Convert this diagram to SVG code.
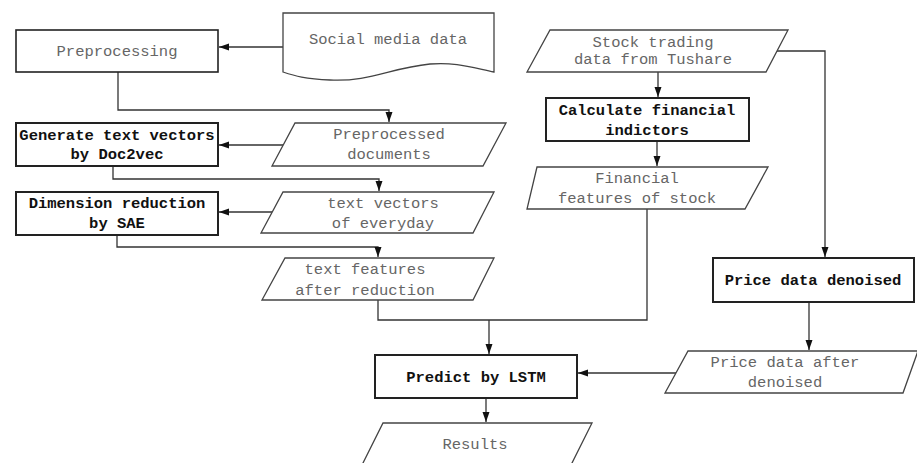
<svg xmlns="http://www.w3.org/2000/svg" width="917" height="463" viewBox="0 0 917 463">
<style>
.proc{fill:#fff;stroke:#222;stroke-width:2}
.data{fill:#fff;stroke:#444;stroke-width:1.3}
.pt{font-family:"Liberation Mono",monospace;font-size:15.5px;font-weight:bold;fill:#111;text-anchor:middle}
.dt{font-family:"Liberation Mono",monospace;font-size:15.5px;fill:#666;text-anchor:middle}
.c{fill:none;stroke:#333;stroke-width:1.3}
</style>
<defs>
<marker id="ah" viewBox="0 0 10 10" refX="10" refY="5" markerWidth="10" markerHeight="10" markerUnits="userSpaceOnUse" orient="auto">
<path d="M0,1.5 L10,5 L0,8.5 Z" fill="#111"/>
</marker>
</defs>
<rect width="917" height="463" fill="#fff"/>
<g id="connectors">
<path class="c" d="M283,47 H219" marker-end="url(#ah)"/>
<path class="c" d="M118,72 V110 H389 V122" marker-end="url(#ah)"/>
<path class="c" d="M284,145 H219" marker-end="url(#ah)"/>
<path class="c" d="M113,166 V179 H379 V191" marker-end="url(#ah)"/>
<path class="c" d="M272,212 H219" marker-end="url(#ah)"/>
<path class="c" d="M117,235 V247 H378 V257" marker-end="url(#ah)"/>
<path class="c" d="M378,300 V320 H647 V209"/>
<path class="c" d="M489,320 V354" marker-end="url(#ah)"/>
<path class="c" d="M658,72 V97" marker-end="url(#ah)"/>
<path class="c" d="M657,141 V166" marker-end="url(#ah)"/>
<path class="c" d="M777,51 H825 V257" marker-end="url(#ah)"/>
<path class="c" d="M809,302 V350" marker-end="url(#ah)"/>
<path class="c" d="M676,373 H578" marker-end="url(#ah)"/>
<path class="c" d="M486,398 V422" marker-end="url(#ah)"/>
</g>
<g id="social">
<path class="data" d="M283,13 H494 V72 C470,67 455,62 430,64 C390,68 370,82 330,80 C305,79 295,76 283,72 Z"/>
<text class="dt" x="388" y="44">Social media data</text>
</g>
<g id="preprocessing">
<rect class="proc" x="16" y="30" width="202" height="42" style="stroke-width:1.6"/>
<text class="dt" x="117" y="56">Preprocessing</text>
</g>
<g id="preprocessed">
<path class="data" d="M295,123 H506 L483,166 H272 Z"/>
<text class="dt" x="389" y="139">Preprocessed</text>
<text class="dt" x="389" y="159">documents</text>
</g>
<g id="generate">
<rect class="proc" x="16" y="123" width="202" height="43"/>
<text class="pt" x="117" y="140">Generate text vectors</text>
<text class="pt" x="117" y="159">by Doc2vec</text>
</g>
<g id="textvectors">
<path class="data" d="M283,192 H494 L473,233 H261 Z"/>
<text class="dt" x="383" y="208">text vectors</text>
<text class="dt" x="383" y="228">of everyday</text>
</g>
<g id="dimension">
<rect class="proc" x="16" y="192" width="202" height="43"/>
<text class="pt" x="117" y="208">Dimension reduction</text>
<text class="pt" x="117" y="228">by SAE</text>
</g>
<g id="textfeatures">
<path class="data" d="M285,258 H494 L473,300 H262 Z"/>
<text class="dt" x="365" y="274">text features</text>
<text class="dt" x="365" y="295">after reduction</text>
</g>
<g id="stock">
<path class="data" d="M550,30 H788 L766,72 H527 Z"/>
<text class="dt" x="653" y="47">Stock trading</text>
<text class="dt" x="653" y="64">data from Tushare</text>
</g>
<g id="calculate">
<rect class="proc" x="546" y="98" width="203" height="43"/>
<text class="pt" x="647" y="115">Calculate financial</text>
<text class="pt" x="647" y="135">indictors</text>
</g>
<g id="financial">
<path class="data" d="M537,167 H768 L745,209 H527 Z"/>
<text class="dt" x="637" y="183">Financial</text>
<text class="dt" x="637" y="203">features of stock</text>
</g>
<g id="denoised">
<rect class="proc" x="713" y="258" width="201" height="44"/>
<text class="pt" x="813" y="285">Price data denoised</text>
</g>
<g id="priceafter">
<path class="data" d="M688,351 H918 L903,393 H665 Z"/>
<text class="dt" x="785" y="367">Price data after</text>
<text class="dt" x="785" y="387">denoised</text>
</g>
<g id="predict">
<rect class="proc" x="375" y="355" width="202" height="43"/>
<text class="pt" x="476" y="382">Predict by LSTM</text>
</g>
<g id="results">
<path class="data" d="M383,423 H592 L570,467 H361 Z"/>
<text class="dt" x="475" y="449">Results</text>
</g>
</svg>
